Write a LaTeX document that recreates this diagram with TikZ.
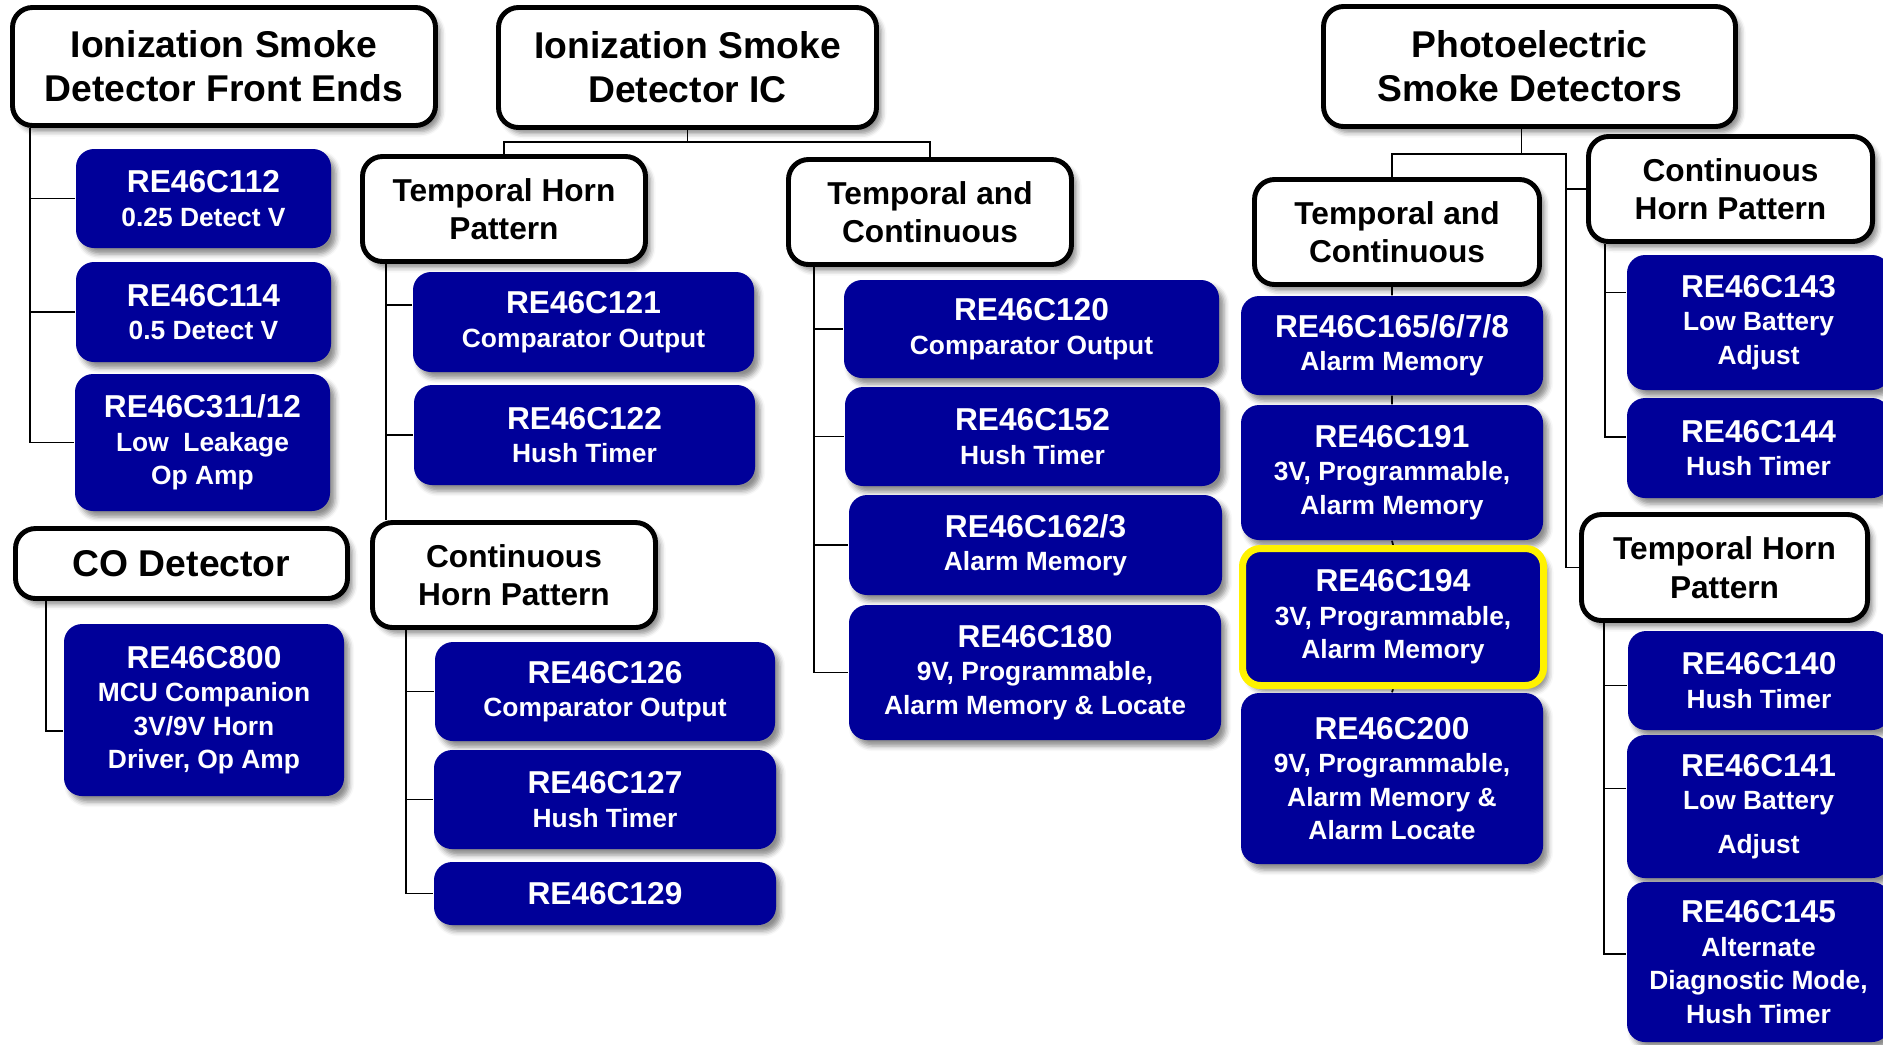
\documentclass[tikz,border=0pt]{standalone}
\usepackage{fontspec}
\setmainfont{Liberation Sans}
\usetikzlibrary{shadows.blur,backgrounds}
\definecolor{chipblue}{RGB}{0,0,153}
\newcommand{\dsc}{\fontsize{7.5}{9}\selectfont}
\tikzset{wh/.style 2 args={minimum width=#1*0.01cm, minimum height=#2*0.01cm}}

\begin{document}
\begin{tikzpicture}[
x=0.01cm, y=-0.01cm,
softshadow/.style={blur shadow={shadow xshift=0.05cm, shadow yshift=-0.06cm, shadow blur radius=0.05cm, shadow opacity=45}},
head/.style={draw=black, line width=1.4pt, fill=white, rounded corners=0.2cm, align=center, inner sep=0pt, softshadow, font=\fontsize{10.6}{12.6}\selectfont\bfseries},
subhead/.style={head, font=\fontsize{9}{10.9}\selectfont\bfseries},
chip/.style={fill=chipblue, text=white, rounded corners=0.18cm, align=center, inner sep=0pt, softshadow, font=\fontsize{9}{9.5}\selectfont\bfseries},
wire/.style={draw=black, line width=0.5pt}
]
\useasboundingbox (0,0) rectangle (1883,1044);

% headings
\node[head, wh={423}{118}] (fe) at (224,66.5) {Ionization Smoke\\Detector Front Ends};
\node[head, wh={378}{120}] (ic) at (687.5,67.5) {Ionization Smoke\\Detector IC};
\node[head, wh={412}{120}] (photo) at (1529.5,66.5) {Photoelectric\\Smoke Detectors};
\node[head, wh={332}{70}] (co) at (181.5,563.5) {CO Detector};

\node[subhead, wh={283}{105}] (tempL) at (504,209) {Temporal Horn\\Pattern};
\node[subhead, wh={283}{105}] (tcM) at (930,212) {Temporal and\\Continuous};
\node[subhead, wh={283}{105}] (chL) at (514,575) {Continuous\\Horn Pattern};
\node[subhead, wh={285}{105}] (tcR) at (1397,232) {Temporal and\\Continuous};
\node[subhead, wh={284}{105}] (chR) at (1730.5,189) {Continuous\\Horn Pattern};
\node[subhead, wh={286}{106}] (tempR) at (1724.5,567.5) {Temporal Horn\\Pattern};

% parts
\node[chip, wh={255}{99}] (c112) at (203.5,198.5) {RE46C112\\\dsc 0.25 Detect V};
\node[chip, wh={255}{100}] (c114) at (203.5,312) {RE46C114\\\dsc 0.5 Detect V};
\node[chip, wh={255}{137}] (c311) at (202.5,442.5) {RE46C311/12\\\dsc Low\ \ Leakage\\\dsc Op Amp};
\node[chip, wh={280}{172}] (c800) at (204,710) {RE46C800\\\dsc MCU Companion\\\dsc 3V/9V Horn\\\dsc Driver, Op Amp};

\node[chip, wh={341}{100}] (c121) at (583.5,322) {RE46C121\\\dsc Comparator Output};
\node[chip, wh={341}{100}] (c122) at (584.5,435) {RE46C122\\\dsc Hush Timer};
\node[chip, wh={340}{99}] (c126) at (605,691.5) {RE46C126\\\dsc Comparator Output};
\node[chip, wh={342}{99}] (c127) at (605,799.5) {RE46C127\\\dsc Hush Timer};
\node[chip, wh={342}{63}] (c129) at (605,893.5) {RE46C129};

\node[chip, wh={375}{98}] (c120) at (1031.5,329) {RE46C120\\\dsc Comparator Output};
\node[chip, wh={375}{99}] (c152) at (1032.5,436.5) {RE46C152\\\dsc Hush Timer};
\node[chip, wh={373}{100}] (c162) at (1035.5,545) {RE46C162/3\\\dsc Alarm Memory};
\node[chip, wh={372}{135}] (c180) at (1035,672.5) {RE46C180\\\dsc 9V, Programmable,\\\dsc Alarm Memory \& Locate};

\node[chip, wh={302}{99}] (c165) at (1392,345.5) {RE46C165/6/7/8\\\dsc Alarm Memory};
\node[chip, wh={302}{135}] (c191) at (1392,472.5) {RE46C191\\\dsc 3V, Programmable,\\\dsc Alarm Memory};
\node[chip, wh={301}{137}, draw=yellow, line width=2pt] (c194) at (1393,617) {RE46C194\\\dsc 3V, Programmable,\\\dsc Alarm Memory};
\node[chip, wh={302}{171}] (c200) at (1392,778.5) {RE46C200\\\dsc 9V, Programmable,\\\dsc Alarm Memory \&\\\dsc Alarm Locate};

\node[chip, wh={263}{135}] (c143) at (1758.5,322.5) {RE46C143\\\dsc Low Battery\\\dsc Adjust};
\node[chip, wh={263}{100}] (c144) at (1758.5,448) {RE46C144\\\dsc Hush Timer};
\node[chip, wh={262}{99}] (c140) at (1759,680.5) {RE46C140\\\dsc Hush Timer};
\node[chip, wh={263}{143}] (c141) at (1758.5,806.5) {RE46C141\\\dsc Low Battery\\[0.1cm]\dsc Adjust};
\node[chip, wh={263}{160}] (c145) at (1758.5,962) {RE46C145\\\dsc Alternate\\\dsc Diagnostic Mode,\\\dsc Hush Timer};

% connectors
\begin{scope}[on background layer]
\draw[wire] ([xshift=0.2cm]fe.south west) coordinate (feL) |- (c112.west)
  (feL) |- (c114.west) (feL) |- (c311.west);
\draw[wire] ([xshift=0.33cm]co.south west) |- ([yshift=-0.21cm]c800.west);

\draw[wire] (ic.south) -- ++(0,12) coordinate (icbus);
\draw[wire] (tempL.north) |- (icbus) -| (tcM.north);
\draw[wire] ([xshift=0.26cm]tempL.south west) coordinate (thL) |- ([yshift=0.17cm]c121.west)
  (thL) |- (c122.west) (thL) -- (thL |- chL.north);
\draw[wire] ([xshift=0.36cm]chL.south west) coordinate (chLL) |- (c126.west)
  (chLL) |- (c127.west) (chLL) |- (c129.west);
\draw[wire] ([xshift=0.28cm]tcM.south west) coordinate (tcML) |- (c120.west)
  (tcML) |- (c152.west) (tcML) |- (c162.west) (tcML) |- (c180.west);

\draw[wire] ([xshift=-0.08cm]photo.south) -- ++(0,25) coordinate (pbus);
\path (pbus) ++(44.5,0) coordinate (pjoin);
\draw[wire] (c165 |- tcR.north) |- (pjoin) |- (tempR.west);
\draw[wire] (pjoin |- chR.west) -- (chR.west);
\draw[wire] (c165 |- tcR.south) -- (c165.north) (c165.south) -- (c191.north)
  (c191.south) -- (c194.north) (c194.south) -- (c200.north);
\draw[wire] ([xshift=0.19cm]chR.south west) coordinate (chRL) |- ([yshift=0.3cm]c143.west)
  (chRL) |- ([yshift=0.11cm]c144.west);
\draw[wire] ([xshift=0.25cm]tempR.south west) coordinate (thRL) |- ([yshift=-0.05cm]c140.west)
  (thRL) |- ([yshift=0.18cm]c141.west) (thRL) |- ([yshift=0.08cm]c145.west);
\end{scope}
\end{tikzpicture}
\end{document}
